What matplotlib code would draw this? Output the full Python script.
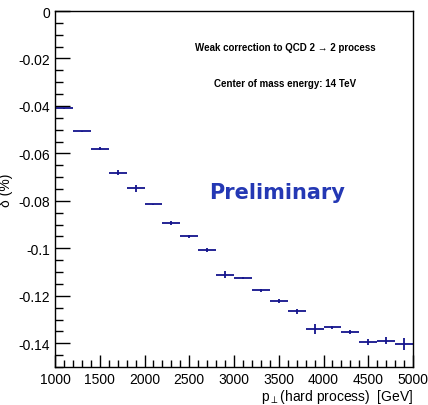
import matplotlib
matplotlib.use("Agg")
import matplotlib.pyplot as plt
import numpy as np
from matplotlib.ticker import MultipleLocator, FixedLocator

plt.rcParams['axes.unicode_minus'] = False
plt.rcParams['font.family'] = ['Liberation Sans', 'DejaVu Sans']

bin_edges_lo = [1000, 1200, 1400, 1600, 1800, 2000, 2200, 2400, 2600, 2800,
                3000, 3200, 3400, 3600, 3800, 4000, 4200, 4400, 4600, 4800]
bin_width = 200
delta = [-0.0410, -0.0507, -0.0580, -0.0681, -0.0747, -0.0814, -0.0893, -0.0949,
         -0.1007, -0.1112, -0.1124, -0.1177, -0.1222, -0.1265, -0.1340, -0.1333,
         -0.1352, -0.1395, -0.1389, -0.1403]
delta_err = [0.0002, 0.0003, 0.0005, 0.0010, 0.0015, 0.0002, 0.0007, 0.0007,
             0.0010, 0.0015, 0.0005, 0.0005, 0.0007, 0.0010, 0.0020, 0.0005,
             0.0007, 0.0012, 0.0015, 0.0025]
yticks = [0, -0.02, -0.04, -0.06, -0.08, -0.1, -0.12, -0.14]
ytick_labels = ['0', '-0.02', '-0.04', '-0.06', '-0.08', '-0.1', '-0.12', '-0.14']
xticks = [1000, 1500, 2000, 2500, 3000, 3500, 4000, 4500, 5000]

fig = plt.figure(figsize=(4.28, 4.06), dpi=100)
ax = fig.add_axes([55/428, 1-368/406, 358/428, 356/406])

xc = np.array(bin_edges_lo) + bin_width/2
ax.errorbar(xc, delta, xerr=bin_width/2, yerr=delta_err, fmt='none',
            ecolor='#14148c', elinewidth=1.3, capsize=0)

ax.set_xlim(1000, 5000)
ax.set_ylim(-0.15, 0)
ax.xaxis.set_major_locator(FixedLocator(xticks))
ax.xaxis.set_minor_locator(MultipleLocator(100))
ax.yaxis.set_major_locator(FixedLocator(yticks))
ax.yaxis.set_minor_locator(MultipleLocator(0.005))
ax.set_yticklabels(ytick_labels)
ax.tick_params(which='both', direction='in', top=False, right=False,
               labelsize=10, color='black')
ax.tick_params(axis='y', which='major', length=11, width=1)
ax.tick_params(axis='y', which='minor', length=6, width=1)
ax.tick_params(axis='x', which='major', length=9, width=1)
ax.tick_params(axis='x', which='minor', length=5, width=1)
for s in ax.spines.values():
    s.set_linewidth(1.0)

ax.set_xlabel(r'p$_{\perp}$(hard process)  [GeV]', fontsize=10, loc='right', labelpad=1)
ax.set_ylabel('δ (%)', fontsize=10, labelpad=4)

ax.text(0.642, 0.899, 'Weak correction to QCD 2 → 2 process', transform=ax.transAxes,
        ha='center', va='center', fontsize=7, fontweight='bold')
ax.text(0.642, 0.798, 'Center of mass energy: 14 TeV', transform=ax.transAxes,
        ha='center', va='center', fontsize=7, fontweight='bold')
ax.text(0.62, 0.492, 'Preliminary', transform=ax.transAxes, ha='center', va='center',
        fontsize=15, fontweight='bold', color='#2438b4', family='DejaVu Sans')

fig.savefig('out.png', dpi=100)
